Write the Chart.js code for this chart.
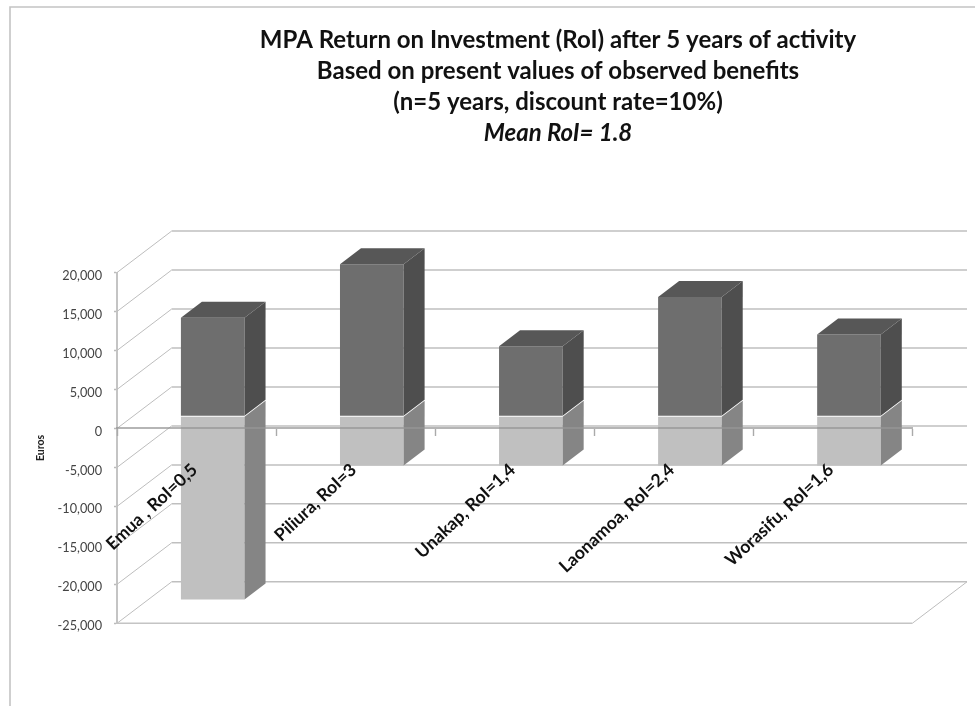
<!DOCTYPE html>
<html><head><meta charset="utf-8">
<style>html,body{margin:0;padding:0;background:#fff;overflow:hidden}canvas{display:block;filter:blur(0.5px)}</style>
<script src="https://cdn.jsdelivr.net/npm/chart.js@4/dist/chart.umd.min.js"></script>
</head><body><canvas id="c" width="975" height="706"></canvas>
<script>
const categories = ['Emua , RoI=0,5','Piliura, RoI=3','Unakap, RoI=1,4','Laonamoa, RoI=2,4','Worasifu, RoI=1,6'];
const benefits = [12630,19470,8950,15270,10480];
const costs = [-23520,-6330,-6330,-6330,-6330];
const titleLines = ['MPA Return on Investment (RoI) after 5 years of activity','Based on present values of observed benefits','(n=5 years, discount rate=10%)'];
const subtitleLine = 'Mean RoI= 1.8';

const wall = {dx:54.7, dy:-41.5};
const barShift = {dx:16.2, dy:-12.3};
const barDepth = {dx:21, dy:-16};
const faces = [
  {front:'#6e6e6e', side:'#4e4e4e', top:'#575757'},
  {front:'#c0c0c0', side:'#858585', top:'#a0a0a0'}
];
function poly(ctx,pts,fill){ctx.beginPath();pts.forEach((p,i)=>i?ctx.lineTo(p[0],p[1]):ctx.moveTo(p[0],p[1]));ctx.closePath();ctx.fillStyle=fill;ctx.fill();}

const scene = {
  id:'scene',
  beforeDraw(chart){
    const c=chart.ctx;c.save();c.strokeStyle='#c4c4c4';c.lineWidth=1.6;
    c.beginPath();c.moveTo(10,706);c.lineTo(10,7);c.lineTo(975,7);c.stroke();c.restore();
  },
  afterLayout(chart){
    chart.boxes.filter(b=>b.options&&b.options.text&&b.options.display&&b.isHorizontal&&b.options.font&&b!==chart.scales.x&&b!==chart.scales.y)
      .forEach(b=>{b.left=141;b.right=975;});
  },
  beforeDatasetsDraw(chart){
    const c=chart.ctx,y=chart.scales.y,a=chart.chartArea;
    c.save();
    y.ticks.forEach(t=>{
      const p=y.getPixelForValue(t.value);
      c.strokeStyle='#bdbdbd';c.lineWidth=1;c.beginPath();c.moveTo(a.left,p);c.lineTo(a.left+wall.dx,p+wall.dy);c.stroke();
      c.strokeStyle='#bfbfbf';c.lineWidth=1.5;c.beginPath();c.moveTo(a.left+wall.dx,p+wall.dy);c.lineTo(a.right+wall.dx,p+wall.dy);c.stroke();
    });
    const bp=y.getPixelForValue(y.min);
    c.strokeStyle='#c4c4c4';c.lineWidth=1.6;c.beginPath();c.moveTo(a.left,bp);c.lineTo(a.right,bp);c.stroke();
    c.strokeStyle='#bdbdbd';c.lineWidth=1;c.beginPath();c.moveTo(a.right,bp);c.lineTo(a.right+wall.dx,bp+wall.dy);c.stroke();
    c.restore();
  },
  beforeDatasetDraw(chart){chart.ctx.save();chart.ctx.translate(barShift.dx,barShift.dy);},
  afterDatasetDraw(chart,args){
    const c=chart.ctx;c.restore();
    const f=faces[args.index];
    args.meta.data.forEach(el=>{
      const l=el.x-el.width/2+barShift.dx,r=el.x+el.width/2+barShift.dx;
      const yT=Math.min(el.y,el.base)+barShift.dy,yB=Math.max(el.y,el.base)+barShift.dy;
      const d=barDepth;
      poly(c,[[r,yT],[r+d.dx,yT+d.dy],[r+d.dx,yB+d.dy],[r,yB]],f.side);
      if(args.index===0)poly(c,[[l,yT],[l+d.dx,yT+d.dy],[r+d.dx,yT+d.dy],[r,yT]],f.top);
    });
  }
};

new Chart(document.getElementById('c'),{
  type:'bar',
  data:{labels:categories,datasets:[
    {label:'Benefits',data:benefits,backgroundColor:faces[0].front,clip:false},
    {label:'Costs',data:costs,backgroundColor:faces[1].front,clip:false}
  ]},
  plugins:[scene],
  options:{
    responsive:false,animation:false,
    layout:{padding:{left:34,right:62.7,top:0,bottom:82.7}},
    datasets:{bar:{barPercentage:0.4,categoryPercentage:1}},
    plugins:{
      legend:{display:false},tooltip:{enabled:false},
      title:{display:true,text:titleLines,color:'#111',font:{family:'Lato',weight:'bold',size:24,lineHeight:1.29},padding:{top:24.5,bottom:0}},
      subtitle:{display:true,text:subtitleLine,color:'#111',font:{family:'Lato',weight:'bold',style:'italic',size:24,lineHeight:1.29},padding:{top:0,bottom:124.2}}
    },
    scales:{
      x:{stacked:true,position:{y:0},offset:true,
        grid:{display:true,z:1,drawOnChartArea:false,drawTicks:true,tickLength:7,tickColor:'#aaaaaa',tickWidth:1.4},
        border:{display:true,z:1,color:'rgba(150,150,150,0.7)',width:2},
        ticks:{z:2,autoSkip:false,minRotation:43,maxRotation:43,padding:24,labelOffset:-2,color:'#111',font:{family:'Lato',weight:'bold',size:17.6}}
      },
      y:{stacked:true,min:-25000,max:20000,
        afterFit(s){s.width=83;},
        title:{display:true,text:'Euros',color:'#222',font:{family:'Lato',weight:'bold',size:10.5},padding:0},
        grid:{display:true,drawOnChartArea:false,drawTicks:true,tickLength:3,tickColor:'#bbbbbb',tickWidth:1.4},
        border:{display:true,color:'#c4c4c4',width:2},
        ticks:{stepSize:5000,padding:12,labelOffset:3,color:'#444',font:{family:'Lato',size:12.7},callback:v=>v.toLocaleString('en-US')}
      }
    }
  }
});
</script></body></html>
